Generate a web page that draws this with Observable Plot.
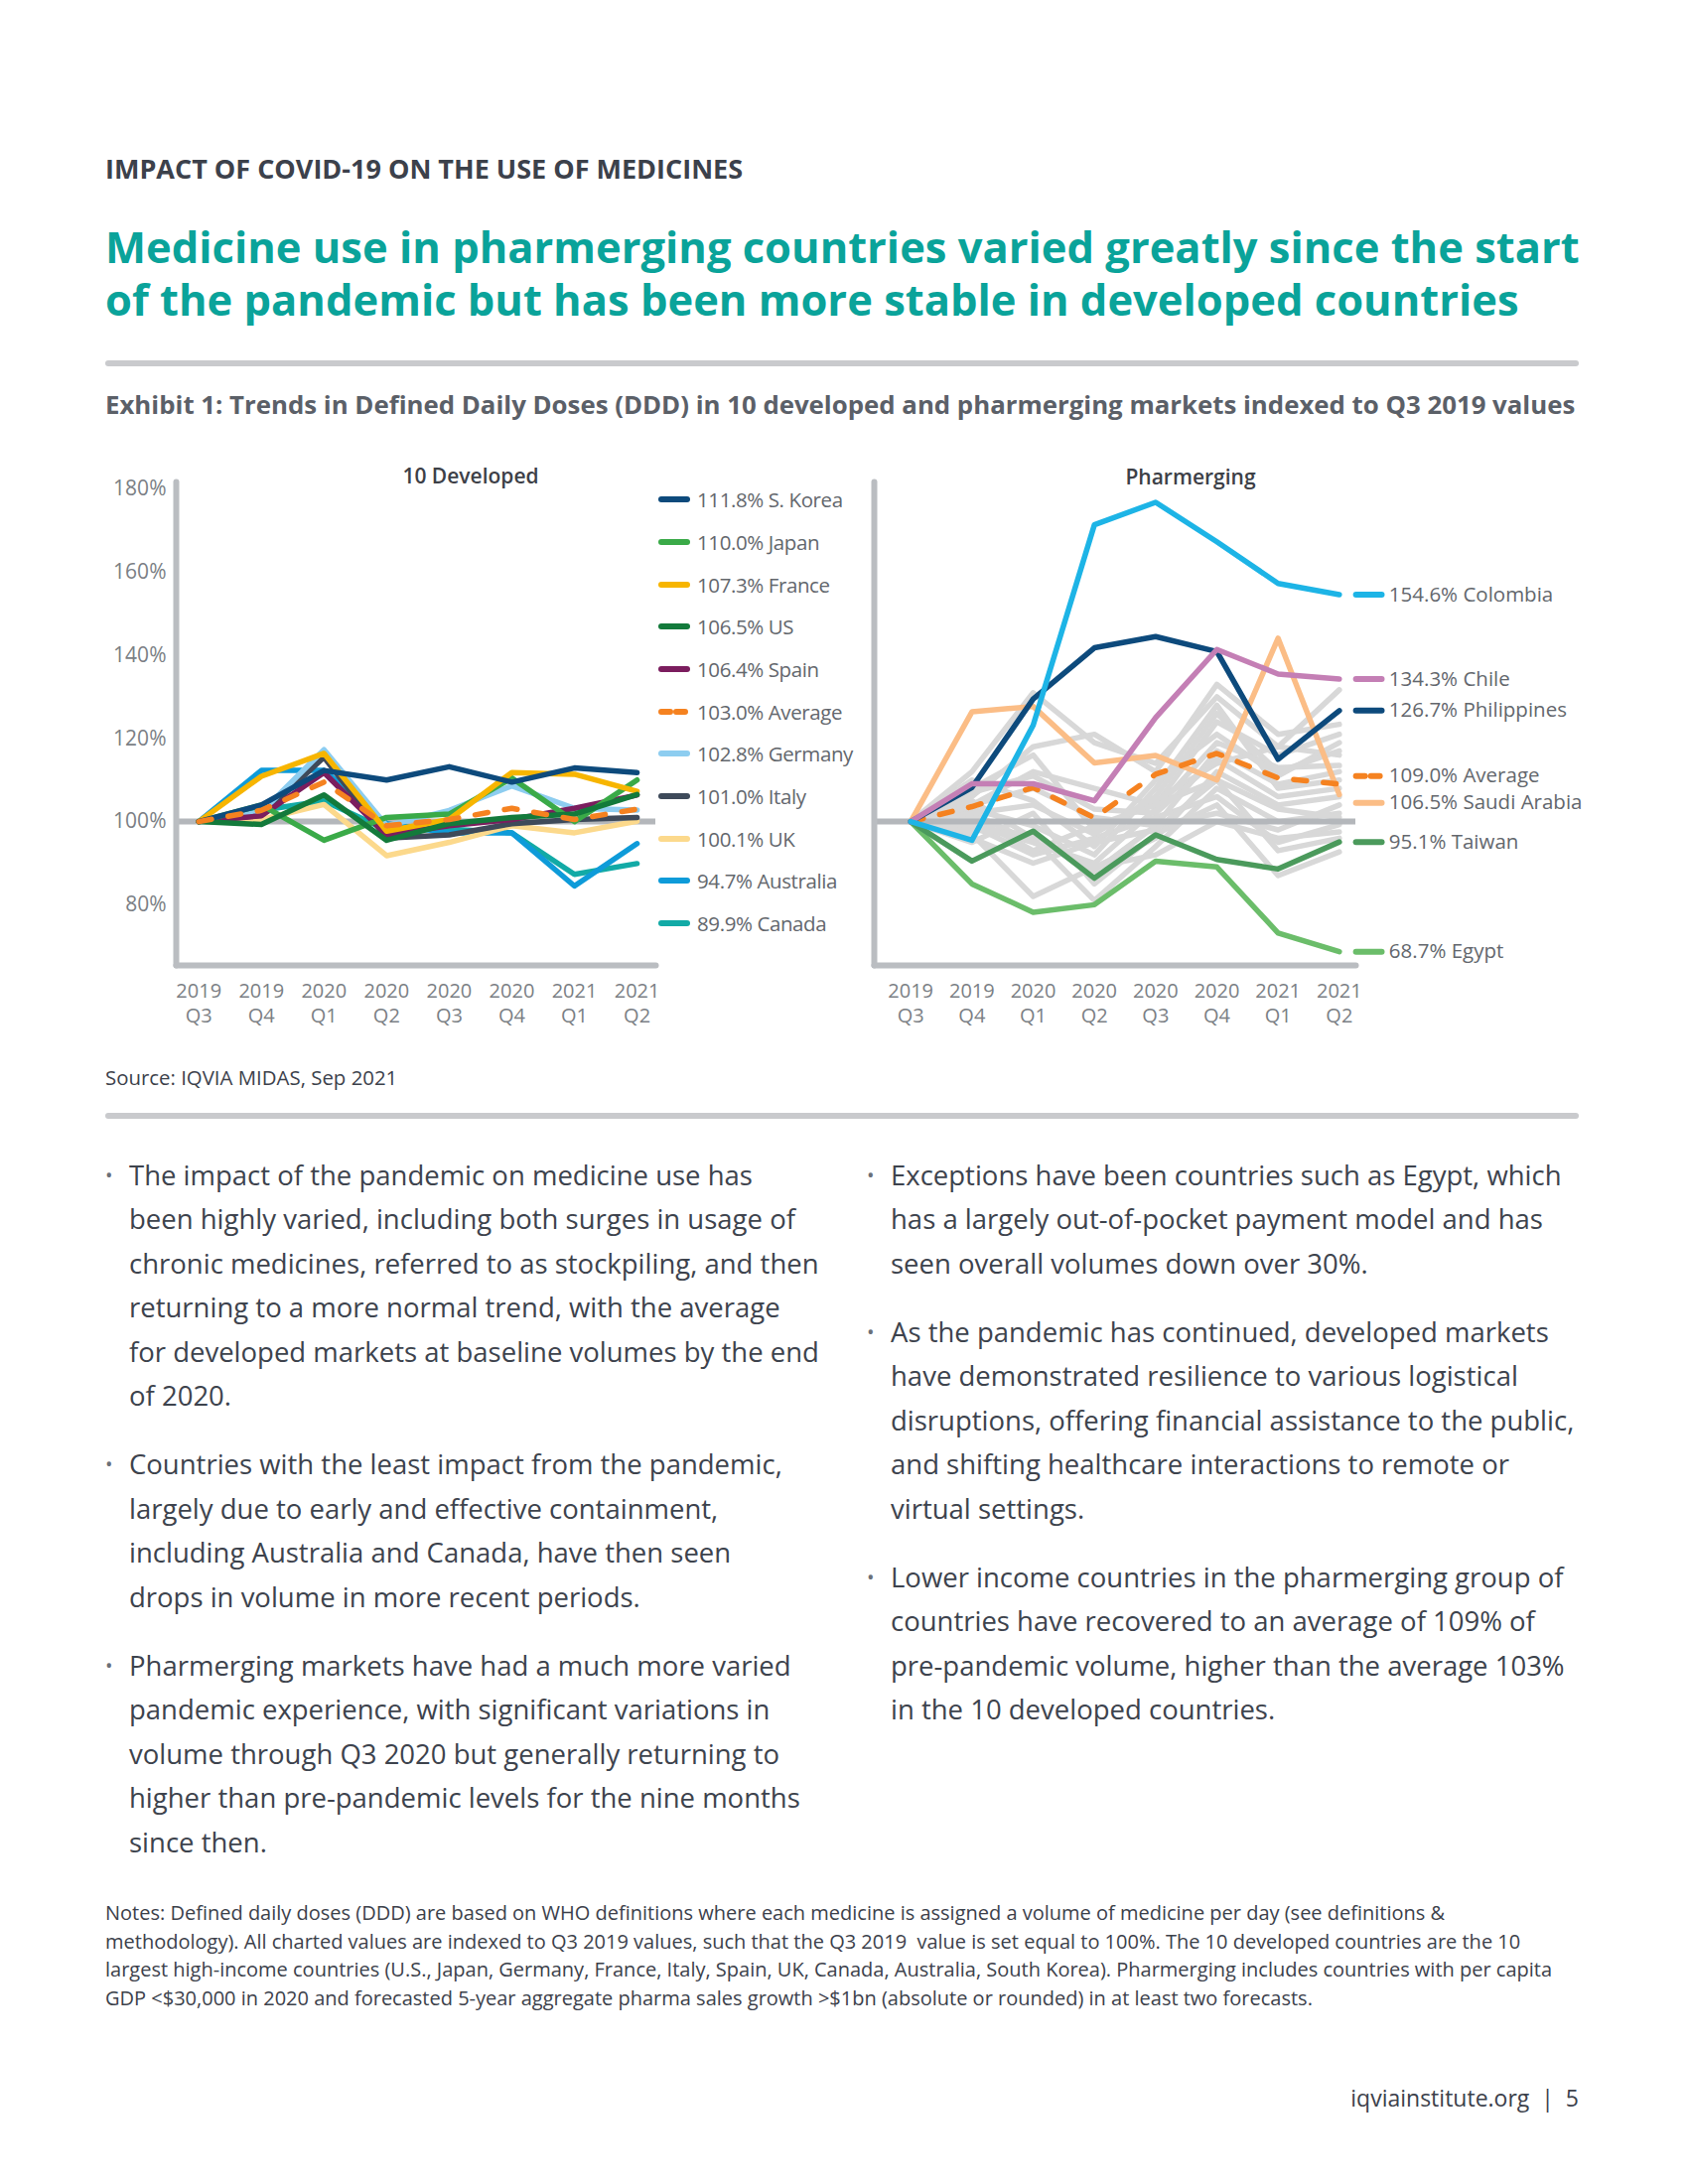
<!DOCTYPE html>
<html>
<head>
<meta charset="utf-8">
<script src="https://cdn.jsdelivr.net/npm/d3@7"></script>
<script src="https://cdn.jsdelivr.net/npm/@observablehq/plot@0.6"></script>
<style>
  body { margin: 0; background: #fff; }
  #page { position: relative; width: 1700px; height: 2200px; overflow: hidden; font-family: "Open Sans", "Noto Sans", sans-serif; color: #3d434d; background: #fff; }
  .abs { position: absolute; white-space: nowrap; }
  .rule { position: absolute; left: 106px; width: 1484px; height: 6px; background: #c9cacd; border-radius: 3px; }
  .title { position: absolute; left: 106px; font-size: 43.5px; line-height: 53px; font-weight: 700; color: #0aa39a; white-space: nowrap; }
  .col p { position: relative; margin: 0 0 24.5px 0; font-size: 27.5px; line-height: 44.5px; white-space: nowrap; }
  .col p::before { content: "\2022"; position: absolute; left: -24px; top: 0; color: #6b7078; font-size: 20px; }
  .legrow { position: absolute; height: 30px; display: flex; align-items: center; font-size: 20.5px; color: #63676d; letter-spacing: -0.4px; }
  .panel-title { position: absolute; font-size: 21px; font-weight: 600; color: #3d4047; transform: translate(-50%, -50%); white-space: nowrap; }
</style>
</head>
<body>
<div id="page">
  <div class="abs" style="left:106px; top:153px; font-size:27px; line-height:34px; font-weight:700; color:#3c414b;">IMPACT OF COVID-19 ON THE USE OF MEDICINES</div>
  <div class="title" style="top:222px;">Medicine use in pharmerging countries varied greatly since the start</div>
  <div class="title" style="top:275px;">of the pandemic but has been more stable in developed countries</div>
  <div class="rule" style="top:363px;"></div>
  <div class="abs" style="left:106px; top:390px; font-size:25.8px; line-height:34px; font-weight:700; color:#5b6068;">Exhibit 1: Trends in Defined Daily Doses (DDD) in 10 developed and pharmerging markets indexed to Q3 2019 values</div>

  <div id="chartLeft" class="abs" style="left:0px; top:440px;"></div>
  <div id="chartRight" class="abs" style="left:700px; top:440px;"></div>
  <div id="legendLeft"></div>
  <div class="panel-title" style="left:474px; top:479px;">10 Developed</div>
  <div class="panel-title" style="left:1199px; top:480px;">Pharmerging</div>

  <div class="abs" style="left:106px; top:1071px; font-size:20.4px; line-height:28px; color:#3c414b;">Source: IQVIA MIDAS, Sep 2021</div>
  <div class="rule" style="top:1121px;"></div>

  <div class="abs col" style="left:130px; top:1161.75px;">
    <p>The impact of the pandemic on medicine use has<br>been highly varied, including both surges in usage of<br>chronic medicines, referred to as stockpiling, and then<br>returning to a more normal trend, with the average<br>for developed markets at baseline volumes by the end<br>of 2020.</p>
    <p>Countries with the least impact from the pandemic,<br>largely due to early and effective containment,<br>including Australia and Canada, have then seen<br>drops in volume in more recent periods.</p>
    <p>Pharmerging markets have had a much more varied<br>pandemic experience, with significant variations in<br>volume through Q3 2020 but generally returning to<br>higher than pre-pandemic levels for the nine months<br>since then.</p>
  </div>
  <div class="abs col" style="left:897px; top:1161.75px;">
    <p>Exceptions have been countries such as Egypt, which<br>has a largely out-of-pocket payment model and has<br>seen overall volumes down over 30%.</p>
    <p>As the pandemic has continued, developed markets<br>have demonstrated resilience to various logistical<br>disruptions, offering financial assistance to the public,<br>and shifting healthcare interactions to remote or<br>virtual settings.</p>
    <p>Lower income countries in the pharmerging group of<br>countries have recovered to an average of 109% of<br>pre-pandemic volume, higher than the average 103%<br>in the 10 developed countries.</p>
  </div>

  <div class="abs" style="left:106px; top:1913px; font-size:20px; line-height:28.5px; color:#3c414b;">Notes: Defined daily doses (DDD) are based on WHO definitions where each medicine is assigned a volume of medicine per day (see definitions &amp;<br>methodology). All charted values are indexed to Q3 2019 values, such that the Q3 2019&nbsp; value is set equal to 100%. The 10 developed countries are the 10<br>largest high-income countries (U.S., Japan, Germany, France, Italy, Spain, UK, Canada, Australia, South Korea). Pharmerging includes countries with per capita<br>GDP &lt;$30,000 in 2020 and forecasted 5-year aggregate pharma sales growth &gt;$1bn (absolute or rounded) in at least two forecasts.</div>
  <div class="abs" style="right:110px; top:2097px; font-size:23px; line-height:32px; color:#3c414b;">iqviainstitute.org&nbsp; |&nbsp; 5</div>
</div>

<script>
// ---------- DATA ----------
const quarterYears = ["2019", "2019", "2020", "2020", "2020", "2020", "2021", "2021"];
const quarterNames = ["Q3", "Q4", "Q1", "Q2", "Q3", "Q4", "Q1", "Q2"];

// 10 developed markets (index, Q3 2019 = 100)
const devNames = ["S. Korea", "Japan", "France", "US", "Spain", "Average", "Germany", "Italy", "UK", "Australia", "Canada"];
const sKorea    = [100, 104.0, 112.3, 110.0, 113.2, 109.5, 112.9, 111.8];
const japan     = [100, 104.0,  95.5, 101.0, 101.8, 110.5, 100.0, 110.0];
const france    = [100, 110.9, 116.4,  97.7, 100.5, 111.8, 111.4, 107.3];
const us        = [100,  99.3, 106.4,  95.5,  99.5, 101.0, 101.8, 106.5];
const spain     = [100, 101.4, 111.8,  96.8,  99.0, 100.5, 103.2, 106.4];
const devAverage= [100, 102.7, 109.5,  99.0, 100.5, 103.2, 100.5, 103.0];
const germany   = [100, 102.3, 117.3,  99.0, 102.7, 108.6, 103.2, 102.8];
const italy     = [100, 101.5, 115.5,  96.0,  96.8,  99.5, 100.5, 101.0];
const uk        = [100, 100.5, 104.1,  91.8,  95.0,  99.0,  97.3, 100.1];
const australia = [100, 112.3, 112.3,  99.5,  97.3,  97.3,  84.5,  94.7];
const canada    = [100, 102.7, 105.0,  98.0,  98.2,  97.3,  87.3,  89.9];

// Pharmerging markets (highlighted)
const phNames = ["Colombia", "Chile", "Philippines", "Average", "Saudi Arabia", "Taiwan", "Egypt"];
const colombia    = [100,  95.5, 123.2, 171.4, 176.8, 167.3, 157.3, 154.6];
const chile       = [100, 109.1, 109.1, 105.0, 125.0, 141.4, 135.5, 134.3];
const philippines = [100, 108.2, 129.5, 141.8, 144.5, 140.9, 115.0, 126.7];
const phAverage   = [100, 103.6, 108.2, 100.9, 111.4, 116.4, 110.5, 109.0];
const saudiArabia = [100, 126.4, 127.7, 114.1, 115.9, 110.0, 144.1, 106.5];
const taiwan      = [100,  90.5,  97.7,  86.4,  96.8,  90.9,  88.6,  95.1];
const egypt       = [100,  85.0,  78.2,  80.0,  90.5,  89.1,  73.2,  68.7];

// Other pharmerging markets (grey, unlabelled)
const otherPharmerging = [
  [100, 112, 131, 119, 114, 130, 118, 131.7],
  [100, 106, 118, 121, 112, 133, 121, 123.4],
  [100, 104, 112, 108, 104, 124, 116, 121.0],
  [100, 102,  95,  90, 103, 119, 113, 113.5],
  [100,  97,  82,  89,  96, 112, 104, 106.0],
  [100, 105,  96,  81,  94, 108, 100, 102.0],
  [100,  99,  92,  96, 101, 106,  95,  99.3],
  [100,  95, 102,  85,  97, 104,  87,  92.7],
  [100, 108, 116,  98, 105, 114, 118, 116.0],
  [100, 103,  99,  92, 108, 128, 108, 110.0],
  [100, 101,  93,  99, 104, 110,  93,  96.0],
  [100, 110, 105,  94, 110, 121, 111, 119.0],
  [100,  98,  97,  88,  99, 102,  98, 104.0],
  [100, 107, 111, 103, 102, 115, 106, 108.0],
  [100, 104, 108, 101,  99, 117, 109, 112.0],
  [100,  96,  90,  95,  98, 110, 103, 101.0],
  [100, 102, 104,  97, 106, 126, 112, 117.0],
  [100,  99,  95,  89,  92, 100,  96,  97.5]
];

// ---------- STYLES ----------
const devColors = {
  "S. Korea": "#0d4a7c", "Japan": "#3aaa48", "France": "#f7b500", "US": "#137a3b",
  "Spain": "#7b1d5e", "Average": "#f58220", "Germany": "#8dcdf0", "Italy": "#3e4a5a",
  "UK": "#fcd98c", "Australia": "#0e9bd9", "Canada": "#12aaa6"
};
const phColors = {
  "Colombia": "#1db4e6", "Chile": "#c47fb5", "Philippines": "#0d4a7c", "Average": "#f58220",
  "Saudi Arabia": "#fbbd86", "Taiwan": "#4b9a5c", "Egypt": "#6bbd6a"
};
const greyLine = "#d8d8d8";
const axisGrey = "#babdc1";
const tickColor = "#7b7f85";
const labelColor = "#63676d";
const dash = "13,17";

const devValues = [sKorea, japan, france, us, spain, devAverage, germany, italy, uk, australia, canada];
const phValues = [colombia, chile, philippines, phAverage, saudiArabia, taiwan, egypt];

const toRows = (name, vals) => vals.map((v, i) => ({series: name, i, v}));
const pct = v => v.toFixed(1) + "%";
const tickLabel = i => quarterYears[i] + "\n" + quarterNames[i];
const idx = d3.range(quarterNames.length);
const last = idx[idx.length - 1];

function lineMark(name, vals, color, dashed) {
  return Plot.line(toRows(name, vals), {
    x: "i", y: "v", stroke: color, strokeWidth: 5.5,
    strokeLinejoin: "round", strokeLinecap: "round",
    strokeDasharray: dashed ? dash : null
  });
}

const commonAxes = [
  Plot.frame({anchor: "left", stroke: axisGrey, strokeWidth: 6, strokeLinecap: "round"}),
  Plot.frame({anchor: "bottom", stroke: axisGrey, strokeWidth: 6, strokeLinecap: "round"}),
  Plot.axisX({ticks: idx, tickFormat: tickLabel, tickSize: 0, tickPadding: 14, fontSize: 20, lineHeight: 1.28, color: tickColor, label: null})
];

// ---------- LEFT CHART ----------
const drawOrderDev = ["Canada", "Australia", "UK", "Italy", "Germany", "Spain", "Japan", "France", "US", "S. Korea", "Average"];
const leftMarks = [
  Plot.ruleY([100], {stroke: "#b4b7bb", strokeWidth: 6}),
  ...commonAxes,
  Plot.axisY({ticks: [80, 100, 120, 140, 160, 180], tickFormat: d => d + "%", tickSize: 0, tickPadding: 10, fontSize: 21, color: tickColor, label: null}),
  ...drawOrderDev.map(n => {
    const k = devNames.indexOf(n);
    return lineMark(n, devValues[k], devColors[n], n === "Average");
  })
];
const leftChart = Plot.plot({
  width: 670, height: 605,
  marginLeft: 177, marginRight: 10, marginTop: 45, marginBottom: 73,
  x: {domain: [-0.36, 7.3], label: null},
  y: {domain: [65.4, 181.7], label: null},
  style: {fontFamily: "'Open Sans', sans-serif", background: "transparent", overflow: "visible"},
  marks: leftMarks
});
document.getElementById("chartLeft").appendChild(leftChart);

// left legend (ordered list, values from data)
const legend = document.getElementById("legendLeft");
devNames.forEach((n, k) => {
  const row = document.createElement("div");
  row.className = "legrow";
  row.style.left = "660px";
  row.style.top = (503.3 + k * 42.67 - 15) + "px";
  const col = devColors[n];
  row.innerHTML = `<svg width="40" height="10" style="margin-right:2px"><line x1="6" x2="32" y1="5" y2="5" stroke="${col}" stroke-width="6" stroke-linecap="round" ${n === "Average" ? 'stroke-dasharray="9,6"' : ''}/></svg><span>${pct(devValues[k][last])} ${n}</span>`;
  legend.appendChild(row);
});

// ---------- RIGHT CHART ----------
const labels = phNames.map((n, k) => ({name: n, value: phValues[k][last], ly: phValues[k][last]}));
labels.sort((a, b) => b.value - a.value);
const minGap = 6.45;
for (let it = 0; it < 100; it++) {
  for (let j = 1; j < labels.length; j++) {
    const gap = labels[j - 1].ly - labels[j].ly;
    if (gap < minGap) { const p = (minGap - gap) / 2; labels[j - 1].ly += p; labels[j].ly -= p; }
  }
}
const drawOrderPh = ["Egypt", "Taiwan", "Saudi Arabia", "Average", "Philippines", "Chile", "Colombia"];
const rightMarks = [
  ...otherPharmerging.map((vals, k) => lineMark("other" + k, vals, greyLine, false)),
  Plot.ruleY([100], {stroke: "#b4b7bb", strokeWidth: 6}),
  ...commonAxes,
  ...drawOrderPh.map(n => {
    const k = phNames.indexOf(n);
    return lineMark(n, phValues[k], phColors[n], n === "Average");
  }),
  ...labels.map(l => Plot.ruleY([l], {
    y: "ly", x1: () => last + 0.28, x2: () => last + 0.70,
    stroke: phColors[l.name], strokeWidth: 6, strokeLinecap: "round",
    strokeDasharray: l.name === "Average" ? "9,6" : null
  })),
  Plot.text(labels, {
    x: () => last, y: "ly", dx: 50, text: d => pct(d.value) + " " + d.name,
    textAnchor: "start", fontSize: 20.5, fill: labelColor, letterSpacing: "-0.4px"
  })
];
const rightChart = Plot.plot({
  width: 1000, height: 605,
  marginLeft: 180, marginRight: 335, marginTop: 45, marginBottom: 73,
  x: {domain: [-0.595, 7.27], label: null},
  y: {domain: [65.4, 181.7], axis: null, label: null},
  style: {fontFamily: "'Open Sans', sans-serif", background: "transparent", overflow: "visible"},
  marks: rightMarks
});
document.getElementById("chartRight").appendChild(rightChart);
</script>
</body>
</html>
